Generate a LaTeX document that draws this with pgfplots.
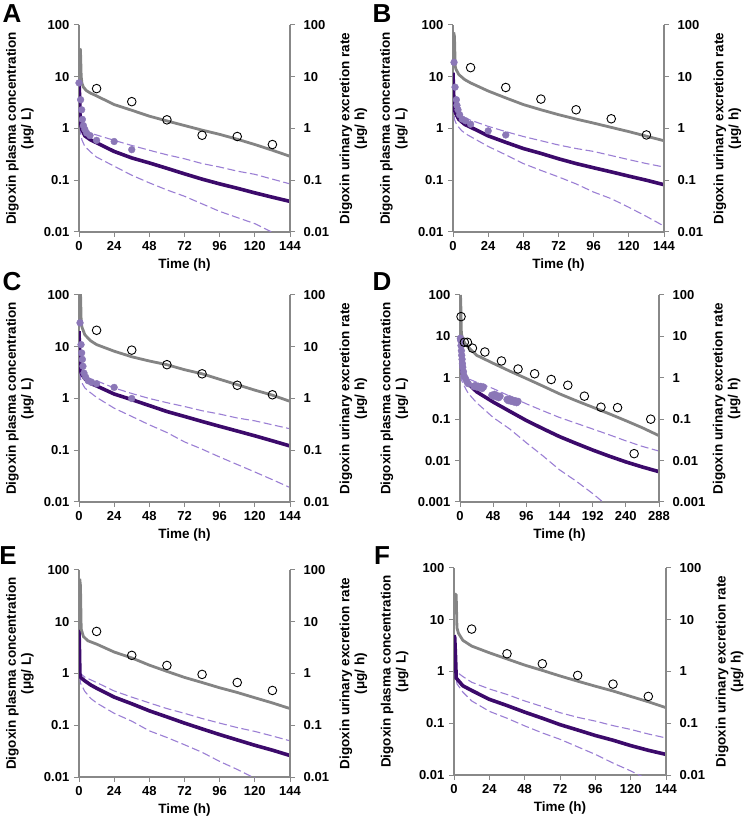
\documentclass[border=0pt]{standalone}
\usepackage{fontspec}
\setmainfont{Liberation Sans}
\usepackage{pgfplots}
\pgfplotsset{compat=1.18}
\definecolor{axgray}{HTML}{888888}
\definecolor{lgray}{HTML}{848484}
\definecolor{dpurp}{HTML}{3C0A6B}
\definecolor{lpurp}{HTML}{9B7FD4}
\definecolor{fpurp}{HTML}{8B77B7}
\newcommand\mytickfont{\fontsize{13}{15}\selectfont\bfseries}
\newcommand\mylabfont{\fontsize{13.5}{15}\selectfont\bfseries}
\newcommand\myletfont{\fontsize{26}{26}\selectfont\bfseries}
\pgfplotsset{
  grayl/.style={color=lgray, line width=2.8pt},
  medl/.style={color=dpurp, line width=3.6pt},
  dashl/.style={color=lpurp, line width=1.1pt, dash pattern=on 8pt off 3.5pt},
  fobs/.style={only marks, mark=*, mark size=3.4pt, mark options={fill=fpurp, draw=fpurp}},
  oobs/.style={only marks, mark=o, mark size=4.3pt, mark options={draw=black, fill=white, line width=0.9pt}},
}
\pgfplotsset{scale only axis, height=207pt, yminorticks=false, xminorticks=false,
    tick align=outside, major tick length=5pt, tick style={draw=axgray, line width=1pt},
    axis line style={draw=axgray, line width=1.6pt, -},
    tick label style={font=\mytickfont, inner sep=4.5pt},
    every axis label/.append style={font=\mylabfont},
    every axis x label/.style={at={(axis description cs:0.5,-0.16)}, anchor=center}}
\begin{document}
\begin{tikzpicture}
\useasboundingbox (0,0) rectangle (748pt,826pt);
% ---------------- A ----------------
\begin{axis}[at={(79pt,594pt)}, anchor=south west, width=211pt, ymode=log, ymin=0.01, ymax=100, xmin=0, xmax=144,
  ytick={0.01,0.1,1,10,100}, yticklabels={0.01,0.1,1,10,100},
  axis x line*=bottom, axis y line*=left, xtick={0,24,...,144}, xticklabels={0,24,48,72,96,120,144},
  xlabel={Time (h)}, ylabel={Digoxin plasma concentration\\(μg/ L)},
  every axis y label/.style={at={(axis description cs:-0.28,0.5)}, rotate=90, anchor=center, align=center}]
\addplot[dashl] coordinates {(0,7)(0.5,3)(1,1.3)(2,1.0)(4,0.88)(8,0.8)(12,0.75)(24,0.59)(36,0.47)(48,0.38)(60,0.31)(72,0.26)(84,0.21)(96,0.18)(108,0.15)(120,0.13)(132,0.105)(144,0.085)};
\addplot[dashl] coordinates {(0,5)(0.5,1.5)(1,0.85)(2,0.6)(4,0.45)(8,0.35)(12,0.28)(24,0.187)(36,0.125)(48,0.089)(60,0.065)(72,0.049)(84,0.035)(96,0.025)(108,0.019)(120,0.0145)(132,0.0098)(144,0.007)};
\addplot[medl] coordinates {(0,8)(0.3,5)(0.7,2)(1,1.3)(2,0.95)(4,0.72)(8,0.6)(12,0.53)(24,0.36)(36,0.27)(48,0.216)(60,0.17)(72,0.133)(84,0.105)(96,0.085)(108,0.07)(120,0.057)(132,0.047)(144,0.039)};
\addplot[grayl] coordinates {(0.5,35)(1,33)(1.5,10)(2,7.5)(3,6.3)(5,5.4)(8,4.8)(11,4.4)(24,2.9)(36,2.25)(48,1.73)(60,1.4)(72,1.14)(84,0.93)(96,0.77)(108,0.62)(120,0.49)(132,0.38)(144,0.29)};
\addplot[fobs] coordinates {(0,7.6)(1.1,3.6)(1.8,2.3)(2.3,1.5)(3,1.14)(4,0.96)(5.2,0.82)(7.5,0.73)(12,0.59)(24,0.56)(36,0.39)};
\addplot[oobs] coordinates {(12,5.9)(36,3.3)(60,1.47)(84,0.74)(108,0.70)(132,0.49)};
\end{axis}
\begin{axis}[at={(79pt,594pt)}, anchor=south west, width=211pt, ymode=log, ymin=0.01, ymax=100, xmin=0, xmax=144,
  ytick={0.01,0.1,1,10,100}, yticklabels={0.01,0.1,1,10,100}, hide x axis, axis y line*=right,
  yticklabel style={xshift=4pt},
  ylabel={Digoxin urinary excretion rate\\(μg/ h)},
  every axis y label/.style={at={(axis description cs:1.30,0.5)}, rotate=90, anchor=center, align=center}]
\end{axis}
% ---------------- B ----------------
\begin{axis}[at={(453pt,594pt)}, anchor=south west, width=211pt, ymode=log, ymin=0.01, ymax=100, xmin=0, xmax=144,
  ytick={0.01,0.1,1,10,100}, yticklabels={0.01,0.1,1,10,100},
  axis x line*=bottom, axis y line*=left, xtick={0,24,...,144}, xticklabels={0,24,48,72,96,120,144},
  xlabel={Time (h)}, ylabel={Digoxin plasma concentration\\(μg/ L)},
  every axis y label/.style={at={(axis description cs:-0.28,0.5)}, rotate=90, anchor=center, align=center}]
\addplot[dashl] coordinates {(0,10)(0.5,4)(1,2.2)(2,1.9)(4,1.75)(6.3,1.66)(12,1.45)(24,1.1)(36,0.87)(48,0.7)(60,0.58)(72,0.48)(84,0.41)(96,0.36)(108,0.3)(120,0.25)(132,0.21)(144,0.18)};
\addplot[dashl] coordinates {(0,8)(0.5,2.5)(1,1.5)(2,1.27)(4,1.05)(6,0.9)(10,0.75)(24,0.45)(36,0.31)(48,0.21)(60,0.155)(72,0.116)(84,0.085)(96,0.059)(108,0.044)(120,0.03)(132,0.02)(144,0.013)};
\addplot[medl] coordinates {(0,12)(0.3,6)(0.7,3)(1,2.3)(2,1.9)(4,1.5)(8,1.2)(12,1.06)(24,0.72)(36,0.54)(48,0.41)(60,0.33)(72,0.26)(84,0.21)(96,0.174)(108,0.145)(120,0.12)(132,0.1)(144,0.082)};
\addplot[grayl] coordinates {(0.5,72)(1,60)(1.5,16)(2,14)(4,11)(8,8.8)(12,7.6)(24,5.3)(36,3.9)(48,2.9)(60,2.3)(72,1.85)(84,1.52)(96,1.27)(108,1.05)(120,0.87)(132,0.71)(144,0.58)};
\addplot[fobs] coordinates {(0.7,19)(1.4,6.3)(2.3,3.6)(2.7,2.8)(3.4,2.3)(4.5,1.85)(6.3,1.52)(8.6,1.41)(12,1.21)(24,0.9)(36,0.75)};
\addplot[oobs] coordinates {(12,15)(36,6.2)(60,3.7)(84,2.3)(108,1.54)(132,0.75)};
\end{axis}
\begin{axis}[at={(453pt,594pt)}, anchor=south west, width=211pt, ymode=log, ymin=0.01, ymax=100, xmin=0, xmax=144,
  ytick={0.01,0.1,1,10,100}, yticklabels={0.01,0.1,1,10,100}, hide x axis, axis y line*=right,
  yticklabel style={xshift=4pt},
  ylabel={Digoxin urinary excretion rate\\(μg/ h)},
  every axis y label/.style={at={(axis description cs:1.30,0.5)}, rotate=90, anchor=center, align=center}]
\end{axis}
% ---------------- C ----------------
\begin{axis}[at={(79pt,324pt)}, anchor=south west, width=211pt, ymode=log, ymin=0.01, ymax=100, xmin=0, xmax=144,
  ytick={0.01,0.1,1,10,100}, yticklabels={0.01,0.1,1,10,100},
  axis x line*=bottom, axis y line*=left, xtick={0,24,...,144}, xticklabels={0,24,48,72,96,120,144},
  xlabel={Time (h)}, ylabel={Digoxin plasma concentration\\(μg/ L)},
  every axis y label/.style={at={(axis description cs:-0.28,0.5)}, rotate=90, anchor=center, align=center}]
\addplot[dashl] coordinates {(0,18)(0.5,6)(1,3.3)(2,2.9)(4,2.7)(6.3,2.5)(12,2.2)(24,1.6)(36,1.25)(48,1.0)(60,0.83)(72,0.7)(84,0.58)(96,0.5)(108,0.42)(120,0.37)(132,0.31)(144,0.26)};
\addplot[dashl] coordinates {(0,15)(0.5,4)(1,2.4)(2,2.0)(4,1.6)(6.3,1.4)(12,1.05)(24,0.65)(36,0.45)(48,0.31)(60,0.22)(72,0.145)(84,0.105)(96,0.074)(108,0.053)(120,0.038)(132,0.027)(144,0.019)};
\addplot[medl] coordinates {(0,20)(0.3,10)(0.7,5)(1,3.5)(2,2.9)(4,2.4)(8,1.95)(12,1.75)(24,1.22)(36,0.95)(48,0.73)(60,0.56)(72,0.45)(84,0.36)(96,0.29)(108,0.235)(120,0.19)(132,0.152)(144,0.121)};
\addplot[grayl] coordinates {(0.5,150)(1,120)(1.5,30)(2,24)(4,17)(8,13)(12,11)(24,8.2)(36,6.4)(48,5.3)(60,4.5)(72,3.6)(84,3.0)(96,2.35)(108,1.85)(120,1.45)(132,1.16)(144,0.88)};
\addplot[fobs] coordinates {(0.7,29)(1.4,11)(1.8,7.6)(2.3,5.7)(2.7,4.2)(3.4,3.1)(4.5,2.6)(6.3,2.2)(8.6,2.05)(12,1.93)(24,1.64)(36,1.0)};
\addplot[oobs] coordinates {(12,20.8)(36,8.6)(60,4.5)(84,3.0)(108,1.8)(132,1.18)};
\end{axis}
\begin{axis}[at={(79pt,324pt)}, anchor=south west, width=211pt, ymode=log, ymin=0.01, ymax=100, xmin=0, xmax=144,
  ytick={0.01,0.1,1,10,100}, yticklabels={0.01,0.1,1,10,100}, hide x axis, axis y line*=right,
  yticklabel style={xshift=4pt},
  ylabel={Digoxin urinary excretion rate\\(μg/ h)},
  every axis y label/.style={at={(axis description cs:1.30,0.5)}, rotate=90, anchor=center, align=center}]
\end{axis}
% ---------------- D ----------------
\begin{axis}[at={(460pt,324pt)}, anchor=south west, width=199pt, ymode=log, ymin=0.001, ymax=100, xmin=0, xmax=288,
  ytick={0.001,0.01,0.1,1,10,100}, yticklabels={0.001,0.01,0.1,1,10,100},
  axis x line*=bottom, axis y line*=left, xtick={0,48,...,288}, xticklabels={0,48,96,144,192,240,288},
  xlabel={Time (h)}, ylabel={Digoxin plasma concentration\\(μg/ L)},
  every axis y label/.style={at={(axis description cs:-0.33,0.5)}, rotate=90, anchor=center, align=center}]
\addplot[dashl] coordinates {(0,10)(0.5,4)(1,2)(2,1.55)(4,1.4)(8,1.1)(12,0.95)(24,0.78)(48,0.55)(72,0.36)(96,0.235)(120,0.16)(144,0.11)(168,0.08)(192,0.058)(216,0.042)(240,0.03)(264,0.022)(288,0.017)};
\addplot[dashl] coordinates {(0,8)(0.5,3)(1,1.2)(2,0.9)(4,0.75)(8,0.55)(12,0.42)(24,0.25)(48,0.11)(72,0.058)(96,0.027)(120,0.013)(144,0.006)(168,0.0032)(192,0.0016)(210,0.0009)(240,0.0004)};
\addplot[medl] coordinates {(0,10)(0.5,4)(1,2.2)(2,1.5)(4,1.2)(8,0.9)(12,0.72)(24,0.46)(48,0.26)(72,0.155)(96,0.093)(120,0.059)(144,0.038)(168,0.026)(192,0.018)(216,0.0128)(240,0.0093)(264,0.007)(288,0.0054)};
\addplot[grayl] coordinates {(0.5,100)(1,80)(2,12)(4,8.5)(8,6.5)(12,5.5)(24,3.5)(48,2.24)(72,1.45)(96,0.96)(120,0.63)(144,0.41)(168,0.28)(192,0.195)(216,0.135)(240,0.092)(264,0.062)(288,0.04)};
\addplot[fobs] coordinates {(0.5,9)(1,8)(1.5,6)(2,4.5)(2.5,3.5)(3,2.8)(3.5,2.2)(4,1.8)(5,1.4)(6,1.1)(8,0.95)(10,0.8)(12,0.72)(20,0.62)(22,0.65)(24,0.6)(26,0.63)(28,0.58)(30,0.62)(32,0.55)(34,0.6)(46,0.38)(48,0.36)(50,0.4)(52,0.35)(54,0.37)(56,0.33)(58,0.36)(68,0.3)(70,0.28)(72,0.31)(74,0.27)(76,0.29)(78,0.26)(80,0.28)(82,0.25)(84,0.27)};
\addplot[oobs] coordinates {(1.5,30)(6.3,7.2)(10.7,7.2)(18,5.2)(36,4.2)(60,2.55)(84,1.63)(108,1.25)(132,0.91)(156,0.66)(180,0.36)(204,0.195)(228,0.19)(252,0.0147)(276,0.10)};
\end{axis}
\begin{axis}[at={(460pt,324pt)}, anchor=south west, width=199pt, ymode=log, ymin=0.001, ymax=100, xmin=0, xmax=288,
  ytick={0.001,0.01,0.1,1,10,100}, yticklabels={0.001,0.01,0.1,1,10,100}, hide x axis, axis y line*=right,
  yticklabel style={xshift=4pt},
  ylabel={Digoxin urinary excretion rate\\(μg/ h)},
  every axis y label/.style={at={(axis description cs:1.34,0.5)}, rotate=90, anchor=center, align=center}]
\end{axis}
% ---------------- E ----------------
\begin{axis}[at={(79pt,49pt)}, anchor=south west, width=211pt, ymode=log, ymin=0.01, ymax=100, xmin=0, xmax=144,
  ytick={0.01,0.1,1,10,100}, yticklabels={0.01,0.1,1,10,100},
  axis x line*=bottom, axis y line*=left, xtick={0,24,...,144}, xticklabels={0,24,48,72,96,120,144},
  xlabel={Time (h)}, ylabel={Digoxin plasma concentration\\(μg/ L)},
  every axis y label/.style={at={(axis description cs:-0.28,0.5)}, rotate=90, anchor=center, align=center}]
\addplot[dashl] coordinates {(0,5)(0.5,1.2)(1,1.0)(4,0.85)(12,0.67)(24,0.46)(36,0.35)(48,0.27)(60,0.21)(72,0.17)(84,0.135)(96,0.11)(108,0.09)(120,0.076)(132,0.062)(144,0.05)};
\addplot[dashl] coordinates {(0,4)(0.5,0.9)(1,0.65)(4,0.45)(8,0.33)(12,0.27)(24,0.17)(36,0.12)(48,0.078)(60,0.058)(72,0.042)(84,0.03)(96,0.02)(108,0.014)(120,0.0095)(132,0.0065)(144,0.0045)};
\addplot[medl] coordinates {(0,7)(0.3,3)(0.6,1.0)(1,0.85)(2,0.8)(4,0.72)(8,0.6)(12,0.52)(24,0.35)(36,0.26)(48,0.19)(60,0.145)(72,0.11)(84,0.085)(96,0.066)(108,0.052)(120,0.041)(132,0.033)(144,0.026)};
\addplot[grayl] coordinates {(0.5,68)(1,50)(1.5,7.2)(3,5.2)(6,4.3)(12,3.7)(24,2.6)(36,2.0)(48,1.45)(60,1.1)(72,0.84)(84,0.67)(96,0.53)(108,0.43)(120,0.34)(132,0.27)(144,0.21)};
\addplot[oobs] coordinates {(12,6.5)(36,2.24)(60,1.43)(84,0.96)(108,0.67)(132,0.47)};
\end{axis}
\begin{axis}[at={(79pt,49pt)}, anchor=south west, width=211pt, ymode=log, ymin=0.01, ymax=100, xmin=0, xmax=144,
  ytick={0.01,0.1,1,10,100}, yticklabels={0.01,0.1,1,10,100}, hide x axis, axis y line*=right,
  yticklabel style={xshift=4pt},
  ylabel={Digoxin urinary excretion rate\\(μg/ h)},
  every axis y label/.style={at={(axis description cs:1.30,0.5)}, rotate=90, anchor=center, align=center}]
\end{axis}
% ---------------- F ----------------
\begin{axis}[at={(454pt,51pt)}, anchor=south west, width=212pt, ymode=log, ymin=0.01, ymax=100, xmin=0, xmax=144,
  ytick={0.01,0.1,1,10,100}, yticklabels={0.01,0.1,1,10,100},
  axis x line*=bottom, axis y line*=left, xtick={0,24,...,144}, xticklabels={0,24,48,72,96,120,144},
  xlabel={Time (h)}, ylabel={Digoxin plasma concentration\\(μg/ L)},
  every axis y label/.style={at={(axis description cs:-0.28,0.5)}, rotate=90, anchor=center, align=center}]
\addplot[dashl] coordinates {(0,4)(1,1.5)(2,0.97)(6,0.8)(12,0.62)(24,0.46)(36,0.36)(48,0.27)(60,0.21)(72,0.16)(84,0.13)(96,0.11)(108,0.09)(120,0.076)(132,0.062)(144,0.052)};
\addplot[dashl] coordinates {(0,3)(1,1)(2,0.58)(6,0.4)(12,0.27)(24,0.17)(36,0.125)(48,0.089)(60,0.065)(72,0.049)(84,0.035)(96,0.025)(108,0.017)(120,0.012)(132,0.0082)(144,0.006)};
\addplot[medl] coordinates {(0,5)(0.5,4.5)(1,2)(1.5,0.75)(2,0.72)(6,0.53)(12,0.43)(24,0.29)(36,0.22)(48,0.164)(60,0.125)(72,0.094)(84,0.074)(96,0.058)(108,0.047)(120,0.037)(132,0.03)(144,0.025)};
\addplot[grayl] coordinates {(0.5,32)(1.5,30)(2,7)(3,5.5)(6,4.0)(12,3.1)(24,2.3)(36,1.75)(48,1.33)(60,1.05)(72,0.82)(84,0.65)(96,0.52)(108,0.42)(120,0.33)(132,0.26)(144,0.2)};
\addplot[oobs] coordinates {(12,6.6)(36,2.2)(60,1.41)(84,0.84)(108,0.57)(132,0.33)};
\end{axis}
\begin{axis}[at={(454pt,51pt)}, anchor=south west, width=212pt, ymode=log, ymin=0.01, ymax=100, xmin=0, xmax=144,
  ytick={0.01,0.1,1,10,100}, yticklabels={0.01,0.1,1,10,100}, hide x axis, axis y line*=right,
  yticklabel style={xshift=4pt},
  ylabel={Digoxin urinary excretion rate\\(μg/ h)},
  every axis y label/.style={at={(axis description cs:1.30,0.5)}, rotate=90, anchor=center, align=center}]
\end{axis}
% panel letters
\node[font=\myletfont] at (12pt,812pt) {A};
\node[font=\myletfont] at (382pt,812pt) {B};
\node[font=\myletfont] at (12pt,544pt) {C};
\node[font=\myletfont] at (382pt,544pt) {D};
\node[font=\myletfont] at (8pt,270pt) {E};
\node[font=\myletfont] at (382pt,270pt) {F};
\end{tikzpicture}
\end{document}
